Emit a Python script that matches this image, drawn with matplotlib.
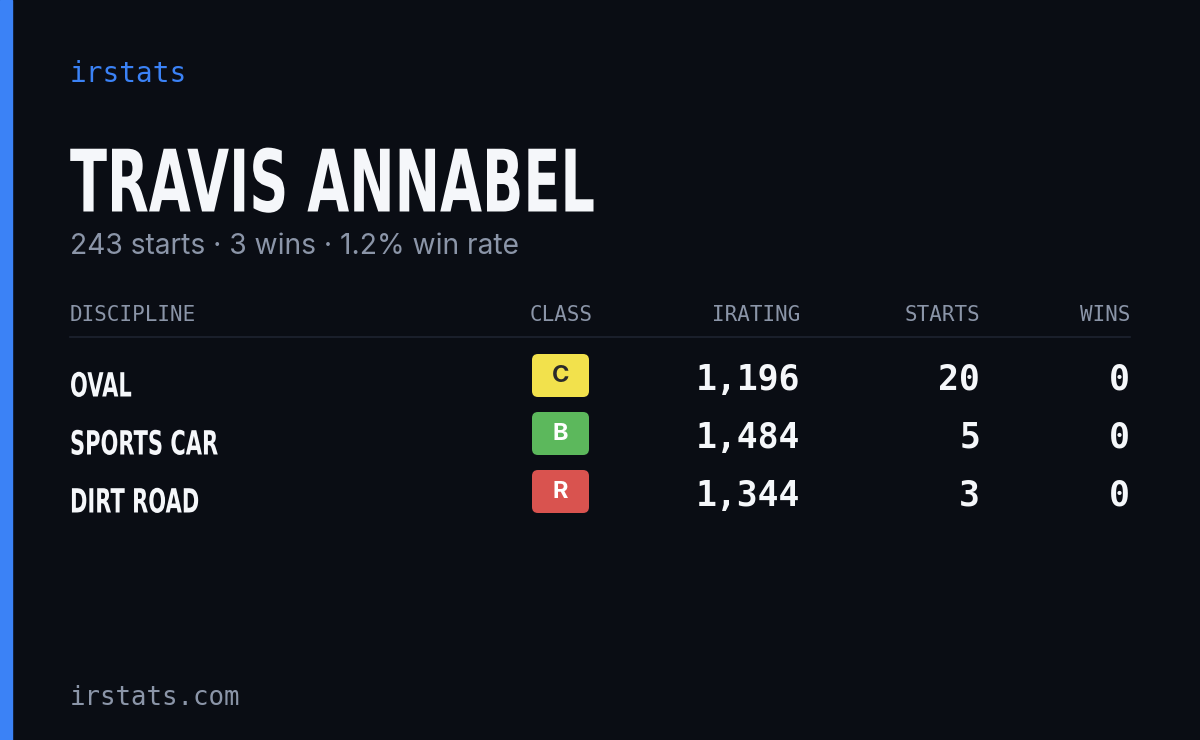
import matplotlib
matplotlib.use("Agg")
import matplotlib.pyplot as plt
from matplotlib.patches import FancyBboxPatch, Rectangle
from matplotlib.patheffects import AbstractPathEffect
from matplotlib.transforms import Affine2D

name = "TRAVIS ANNABEL"
subtitle = "243 starts · 3 wins · 1.2% win rate"
headers = ["DISCIPLINE", "CLASS", "IRATING", "STARTS", "WINS"]
disciplines = ["OVAL", "SPORTS CAR", "DIRT ROAD"]
classes = ["C", "B", "R"]
iratings = [1196, 1484, 1344]
starts = [20, 5, 3]
wins = [0, 0, 0]

class_colors = {"C": ("#f2e14c", "#2a2a2a"), "B": ("#5cb85c", "#ffffff"), "R": ("#d9534f", "#ffffff")}


class Condense(AbstractPathEffect):
    def __init__(self, x0, sx):
        super().__init__()
        self.x0, self.sx = x0, sx

    def draw_path(self, renderer, gc, tpath, affine, rgbFace=None):
        t = affine + Affine2D().translate(-self.x0, 0).scale(self.sx, 1).translate(self.x0, 0)
        renderer.draw_path(gc, tpath, t, rgbFace)


cond = "DejaVu Sans"
mono = "DejaVu Sans Mono"

W, H = 1200, 740
fig = plt.figure(figsize=(12, 7.4), dpi=100, facecolor="#0a0d14")
ax = fig.add_axes([0, 0, 1, 1])
ax.set_xlim(0, W); ax.set_ylim(H, 0); ax.axis("off")
ax.add_patch(Rectangle((0, 0), 12, H, color="#3b82f6"))

ax.text(70, 74, "irstats", family=mono, fontsize=20, color="#3b82f6", va="center")
ax.text(70, 188, name, family=cond, fontweight="bold", fontsize=62, color="#f5f7fa", va="center",
        path_effects=[Condense(70, 0.63)])
ax.text(70, 246, subtitle, family="Inter", fontsize=20.3, color="#8b95a8", va="center")

hx = [(70, "left"), (593, "right"), (800, "right"), (980, "right"), (1130, "right")]
for (x, ha), h in zip(hx, headers):
    ax.text(x, 315, h, family=mono, fontsize=15, color="#8b95a8", va="center", ha=ha)
ax.plot([70, 1130], [337, 337], color="#1e2330", lw=1.2)

for i, (d, c, r, s, w) in enumerate(zip(disciplines, classes, iratings, starts, wins)):
    y = 380 + i * 58
    ax.text(70, y + 7, d, family=cond, fontweight="bold", fontsize=24, color="#f5f7fa", va="center",
            path_effects=[Condense(70, 0.63)])
    bg, fg = class_colors[c]
    ax.add_patch(FancyBboxPatch((532, y - 26), 57, 43, boxstyle="round,pad=0,rounding_size=6",
                                facecolor=bg, edgecolor="none"))
    ax.text(560.5, y - 4, c, family="Inter", fontweight="bold", fontsize=17, color=fg, ha="center", va="center")
    for x, v in [(800, f"{r:,}"), (980, f"{s}"), (1130, f"{w}")]:
        ax.text(x, y, v, family=mono, fontweight="bold", fontsize=25, color="#f5f7fa", ha="right", va="center")

ax.text(70, 698, "irstats.com", family=mono, fontsize=18.5, color="#8b95a8", va="center")
fig.savefig("out.png", dpi=100, facecolor=fig.get_facecolor())
